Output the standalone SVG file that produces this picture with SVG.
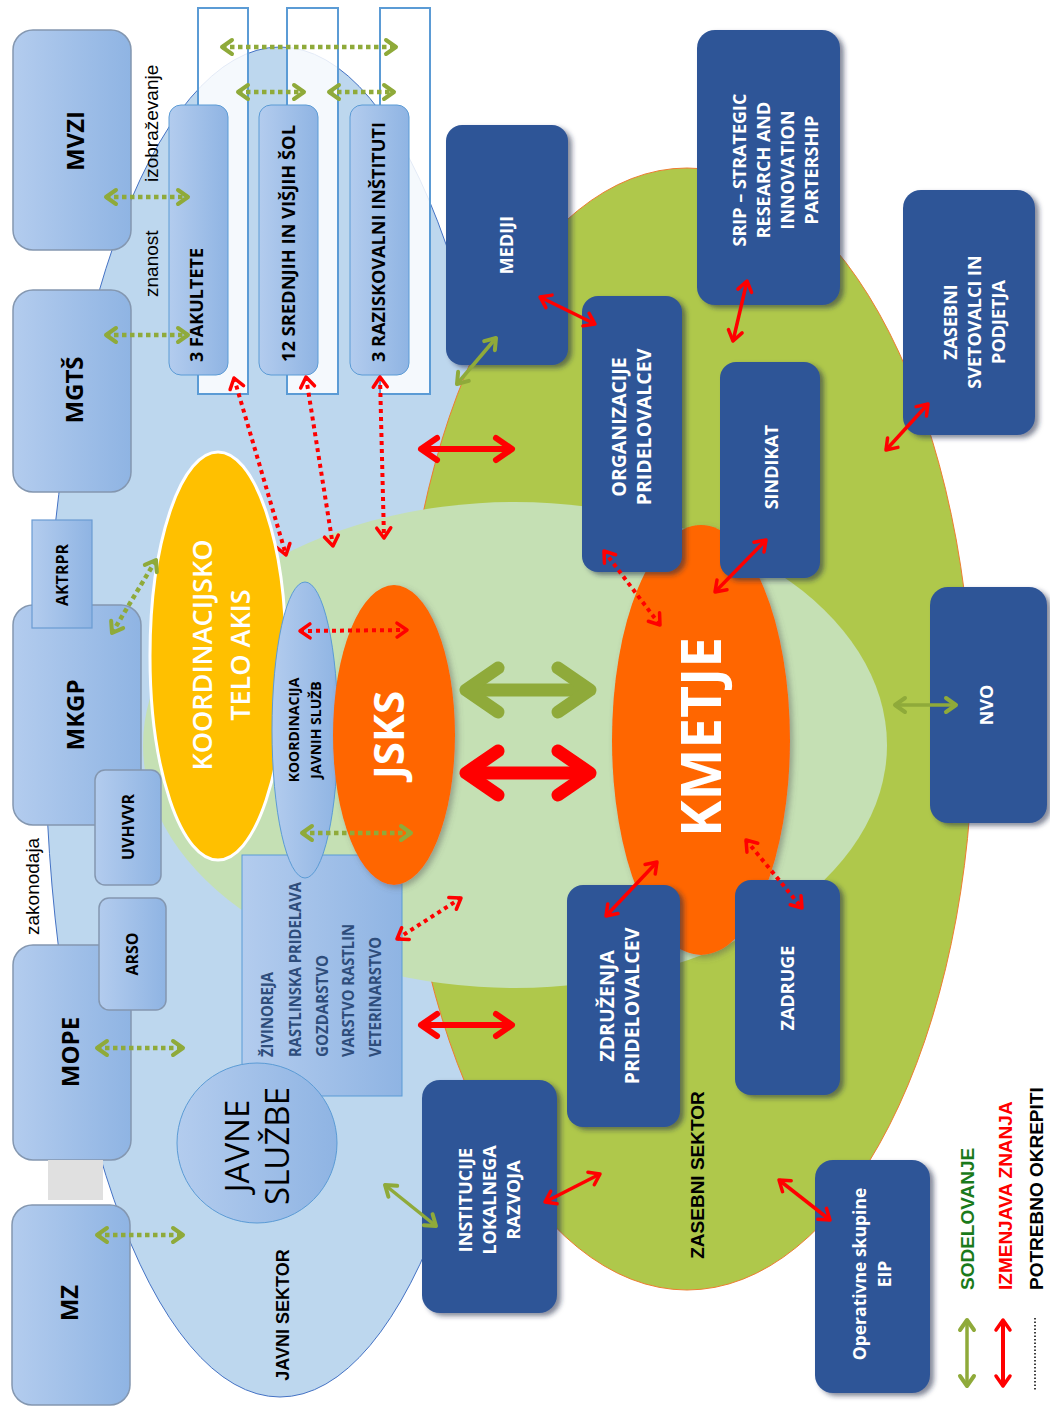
<svg xmlns="http://www.w3.org/2000/svg" width="1050" height="1410" viewBox="0 0 1050 1410">
<style>
.lb{font-family:"Open Sans","Liberation Sans",sans-serif;font-weight:bold;text-anchor:middle}
.ar{font-family:"Liberation Sans",Arial,sans-serif}
.w{fill:#fff}
.k{fill:#000}
.lbox{fill:url(#lbg);stroke:#8497B0;stroke-width:1.5}
.ibox{fill:url(#lbg);stroke:#5B9BD5;stroke-width:1}
.dbox{fill:#2F5597;filter:url(#sh)}
.wr{fill:#fff;fill-opacity:0.85;stroke:#5B9BD5;stroke-width:2}
.gd{stroke:#8FAA3A;stroke-width:4.5;stroke-dasharray:4.5 3.5;marker-start:url(#mg);marker-end:url(#mg)}
.rd{stroke:#FF0000;stroke-width:4;stroke-dasharray:4 4;marker-start:url(#mr);marker-end:url(#mr)}
.rs{stroke:#FF0000;stroke-width:3.5;marker-start:url(#mr);marker-end:url(#mr)}
.gs{stroke:#8FAA3A;stroke-width:3.5;marker-start:url(#mg);marker-end:url(#mg)}
.rm{stroke:#FF0000;stroke-width:6;marker-start:url(#mrm);marker-end:url(#mrm)}
.bg{stroke:#8FAA3A;stroke-width:13;marker-start:url(#mgb);marker-end:url(#mgb)}
.br{stroke:#FF0000;stroke-width:13;marker-start:url(#mrb);marker-end:url(#mrb)}
.hd{fill:none;stroke-linecap:round;stroke-linejoin:round}
.lst{fill:#2E4D7B;font-size:16px;text-anchor:start}
</style>
<defs>
<linearGradient id="lbg" x1="0" y1="0" x2="1" y2="0">
<stop offset="0" stop-color="#B3CCEE"/><stop offset="1" stop-color="#8FB4E3"/>
</linearGradient>
<filter id="sh" x="-10%" y="-10%" width="130%" height="130%">
<feDropShadow dx="4" dy="3" stdDeviation="2.5" flood-color="#1A2A4A" flood-opacity="0.55"/>
</filter>
<filter id="sh2" x="-10%" y="-10%" width="130%" height="130%">
<feDropShadow dx="3" dy="3" stdDeviation="3" flood-color="#555" flood-opacity="0.45"/>
</filter>
<marker id="mg" viewBox="0 0 20 20" refX="16" refY="10" markerWidth="20" markerHeight="20" markerUnits="userSpaceOnUse" orient="auto-start-reverse">
<path class="hd" d="M6,3 L16,10 L6,17" stroke="#8FAA3A" stroke-width="4"/>
</marker>
<marker id="mr" viewBox="0 0 20 20" refX="16" refY="10" markerWidth="20" markerHeight="20" markerUnits="userSpaceOnUse" orient="auto-start-reverse">
<path class="hd" d="M6,3 L16,10 L6,17" stroke="#FF0000" stroke-width="3.5"/>
</marker>
<marker id="mrm" viewBox="0 0 30 30" refX="24" refY="15" markerWidth="30" markerHeight="30" markerUnits="userSpaceOnUse" orient="auto-start-reverse">
<path class="hd" d="M10,4 L26,15 L10,26" stroke="#FF0000" stroke-width="6"/>
</marker>
<marker id="mgb" viewBox="0 0 70 70" refX="48" refY="35" markerWidth="70" markerHeight="70" markerUnits="userSpaceOnUse" orient="auto-start-reverse">
<path class="hd" d="M22,13 L54,35 L22,57" stroke="#8FAA3A" stroke-width="13"/>
</marker>
<marker id="mrb" viewBox="0 0 70 70" refX="48" refY="35" markerWidth="70" markerHeight="70" markerUnits="userSpaceOnUse" orient="auto-start-reverse">
<path class="hd" d="M22,13 L54,35 L22,57" stroke="#FF0000" stroke-width="13"/>
</marker>
</defs>

<rect width="1050" height="1410" fill="#fff"/>

<g id="sectors">
<ellipse id="javni-sektor-area" cx="280" cy="722" rx="235" ry="675" fill="#BDD7EE" stroke="#4472C4" stroke-width="1"/>
<ellipse id="zasebni-sektor-area" cx="687" cy="729" rx="286" ry="561" fill="#AFC84B" stroke="#ED7D31" stroke-width="1"/>
<ellipse id="inner-area" cx="515" cy="745" rx="372" ry="243" fill="#C5E0B4"/>
</g>

<g id="columns">
<rect class="wr" x="198" y="8" width="50" height="386"/>
<rect class="wr" x="287" y="8" width="51" height="386"/>
<rect class="wr" x="380" y="8" width="50" height="386"/>
</g>

<g id="ministries">
<g id="MVZI"><rect class="lbox" x="13" y="30" width="118" height="220" rx="20"/>
<text class="lb k" font-size="24" transform="translate(76,141) rotate(-90)" y="8.4">MVZI</text></g>
<g id="MGTS"><rect class="lbox" x="13" y="290" width="118" height="202" rx="20"/>
<text class="lb k" font-size="24" transform="translate(75,390) rotate(-90)" y="8.4">MGTŠ</text></g>
<g id="MKGP"><rect class="lbox" x="13" y="605" width="128" height="220" rx="20"/>
<text class="lb k" font-size="24" transform="translate(76,715) rotate(-90)" y="8.4">MKGP</text></g>
<g id="AKTRPR"><rect x="32" y="520" width="60" height="108" fill="url(#lbg)" stroke="#6A9BD3" stroke-width="1.2"/>
<text class="lb k" font-size="16" transform="translate(62,575) rotate(-90)" y="5.6">AKTRPR</text></g>
<g id="UVHVVR"><rect class="lbox" x="95" y="770" width="66" height="115" rx="10"/>
<text class="lb k" font-size="16" transform="translate(128,827) rotate(-90)" y="5.6">UVHVVR</text></g>
<g id="MOPE"><rect class="lbox" x="13" y="945" width="118" height="215" rx="20"/>
<text class="lb k" font-size="24" transform="translate(71,1052) rotate(-90)" y="8.4">MOPE</text></g>
<g id="ARSO"><rect class="lbox" x="99" y="898" width="67" height="112" rx="10"/>
<text class="lb k" font-size="16" transform="translate(132,954) rotate(-90)" y="5.6">ARSO</text></g>
<rect id="spacer" x="48" y="1160" width="55" height="40" fill="#E0E0E0"/>
<g id="MZ"><rect class="lbox" x="12" y="1205" width="118" height="200" rx="20"/>
<text class="lb k" font-size="24" transform="translate(70,1303) rotate(-90)" y="8.4">MZ</text></g>
</g>

<g id="labels-public" class="ar" font-size="19" fill="#000">
<text transform="translate(158,182) rotate(-90)">izobraževanje</text>
<text transform="translate(158,297) rotate(-90)">znanost</text>
<text transform="translate(39,935) rotate(-90)">zakonodaja</text>
<text transform="translate(283,1315) rotate(-90)" y="6.3" text-anchor="middle" font-weight="bold" font-size="18">JAVNI SEKTOR</text>
<text transform="translate(697,1175) rotate(-90)" y="6.6" text-anchor="middle" font-weight="bold" font-size="19">ZASEBNI SEKTOR</text>
</g>

<g id="institutions">
<g id="fakultete"><rect class="ibox" x="169" y="105" width="59" height="270" rx="12"/>
<text class="lb k" font-size="18" style="text-anchor:start" transform="translate(203,362) rotate(-90)">3 FAKULTETE</text></g>
<g id="sole"><rect class="ibox" x="259" y="105" width="59" height="270" rx="12"/>
<text class="lb k" font-size="18" style="text-anchor:start" transform="translate(295,362) rotate(-90)" textLength="237" lengthAdjust="spacingAndGlyphs">12 SREDNJIH IN VIŠJIH ŠOL</text></g>
<g id="instituti"><rect class="ibox" x="350" y="105" width="59" height="270" rx="12"/>
<text class="lb k" font-size="18" style="text-anchor:start" transform="translate(385,362) rotate(-90)" textLength="240" lengthAdjust="spacingAndGlyphs">3 RAZISKOVALNI INŠTITUTI</text></g>
</g>

<g id="podrocja">
<rect x="242" y="855" width="160" height="241" fill="url(#lbg)" stroke="#5B9BD5" stroke-width="1"/>
<g class="lb lst">
<text transform="translate(273,1057) rotate(-90)" textLength="85" lengthAdjust="spacingAndGlyphs" style="text-anchor:start">ŽIVINOREJA</text>
<text transform="translate(301,1057) rotate(-90)" textLength="175" lengthAdjust="spacingAndGlyphs" style="text-anchor:start">RASTLINSKA PRIDELAVA</text>
<text transform="translate(328,1057) rotate(-90)" textLength="102" lengthAdjust="spacingAndGlyphs" style="text-anchor:start">GOZDARSTVO</text>
<text transform="translate(354,1057) rotate(-90)" textLength="133" lengthAdjust="spacingAndGlyphs" style="text-anchor:start">VARSTVO RASTLIN</text>
<text transform="translate(381,1057) rotate(-90)" textLength="120" lengthAdjust="spacingAndGlyphs" style="text-anchor:start">VETERINARSTVO</text>
</g>
</g>

<g id="javne-sluzbe">
<circle cx="257" cy="1143" r="80" fill="url(#lbg)" stroke="#5B9BD5" stroke-width="1"/>
<text font-family="'Open Sans','Liberation Sans',sans-serif" font-size="33" text-anchor="middle" fill="#000" transform="translate(257,1146) rotate(-90)"><tspan x="0" y="-8.5">JAVNE</tspan><tspan x="0" y="31.5">SLUŽBE</tspan></text>
</g>

<g id="connectors-back" fill="none">
<line class="rd" x1="234" y1="378" x2="286" y2="555"/>
</g>

<g id="koordinacijsko-telo">
<ellipse cx="218" cy="656" rx="68" ry="204" fill="#FFC000" stroke="#fff" stroke-width="3"/>
<text class="lb w" font-size="27" style="font-weight:600" transform="translate(221,655) rotate(-90)"><tspan x="0" y="-9.5">KOORDINACIJSKO</tspan><tspan x="0" y="28.5">TELO AKIS</tspan></text>
</g>

<g id="koordinacija-sluzb">
<ellipse cx="305" cy="730" rx="33" ry="148" fill="url(#lbg)" stroke="#5B9BD5" stroke-width="1"/>
<text class="lb k" font-size="14" transform="translate(305,730) rotate(-90)"><tspan x="0" y="-6.1">KOORDINACIJA</tspan><tspan x="0" y="15.9">JAVNIH SLUŽB</tspan></text>
</g>

<g id="JSKS">
<ellipse cx="394" cy="735" rx="61" ry="150" fill="#FF6600" filter="url(#sh2)"/>
<text class="lb w" font-size="42" transform="translate(389,735) rotate(-90)" y="14.7">JSKS</text>
</g>

<g id="KMETJE">
<ellipse cx="701" cy="740" rx="89" ry="215" fill="#FF6600" filter="url(#sh2)"/>
<text class="lb w" font-size="55" transform="translate(702,737) rotate(-90)" y="19">KMETJE</text>
</g>

<g id="private-nodes">
<g id="MEDIJI"><rect class="dbox" x="446" y="125" width="122" height="240" rx="16"/>
<text class="lb w" font-size="18" transform="translate(507,245) rotate(-90)" y="6.3">MEDIJI</text></g>
<g id="SRIP"><rect class="dbox" x="697" y="30" width="143" height="275" rx="18"/>
<text class="lb w" font-size="18" transform="translate(776,170) rotate(-90)"><tspan x="0" y="-29.7">SRIP – STRATEGIC</tspan><tspan x="0" y="-5.7">RESEARCH AND</tspan><tspan x="0" y="18.3">INNOVATION</tspan><tspan x="0" y="42.3">PARTERSHIP</tspan></text></g>
<g id="ORGANIZACIJE"><rect class="dbox" x="582" y="296" width="100" height="276" rx="16"/>
<text class="lb w" font-size="19.5" transform="translate(632,427) rotate(-90)"><tspan x="0" y="-5.7">ORGANIZACIJE</tspan><tspan x="0" y="19.3">PRIDELOVALCEV</tspan></text></g>
<g id="SINDIKAT"><rect class="dbox" x="720" y="362" width="100" height="216" rx="16"/>
<text class="lb w" font-size="18" transform="translate(772,467) rotate(-90)" y="6.3">SINDIKAT</text></g>
<g id="ZASEBNI-SVETOVALCI"><rect class="dbox" x="903" y="190" width="132" height="245" rx="18"/>
<text class="lb w" font-size="18" transform="translate(975,322) rotate(-90)"><tspan x="0" y="-17.7">ZASEBNI</tspan><tspan x="0" y="6.3">SVETOVALCI IN</tspan><tspan x="0" y="30.3">PODJETJA</tspan></text></g>
<g id="NVO"><rect class="dbox" x="930" y="587" width="117" height="236" rx="18"/>
<text class="lb w" font-size="18" transform="translate(987,705) rotate(-90)" y="6.3">NVO</text></g>
<g id="ZDRUZENJA"><rect class="dbox" x="567" y="885" width="113" height="242" rx="16"/>
<text class="lb w" font-size="19.5" transform="translate(620,1006) rotate(-90)"><tspan x="0" y="-5.7">ZDRUŽENJA</tspan><tspan x="0" y="19.3">PRIDELOVALCEV</tspan></text></g>
<g id="ZADRUGE"><rect class="dbox" x="735" y="880" width="105" height="215" rx="16"/>
<text class="lb w" font-size="18" transform="translate(788,988) rotate(-90)" y="6.3">ZADRUGE</text></g>
<g id="INSTITUCIJE"><rect class="dbox" x="422" y="1080" width="135" height="233" rx="18"/>
<text class="lb w" font-size="18" transform="translate(490,1200) rotate(-90)"><tspan x="0" y="-17.7">INSTITUCIJE</tspan><tspan x="0" y="6.3">LOKALNEGA</tspan><tspan x="0" y="30.3">RAZVOJA</tspan></text></g>
<g id="EIP"><rect class="dbox" x="815" y="1160" width="115" height="233" rx="18"/>
<text class="lb w" font-size="17.5" transform="translate(872,1274) rotate(-90)"><tspan x="0" y="-6">Operativne skupine</tspan><tspan x="0" y="18.5">EIP</tspan></text></g>
</g>

<g id="connectors" fill="none">
<line class="gd" x1="222" y1="47" x2="396" y2="47"/>
<line class="gd" x1="238" y1="92" x2="304" y2="92"/>
<line class="gd" x1="329" y1="92" x2="394" y2="92"/>
<line class="gd" x1="106" y1="197" x2="188" y2="197"/>
<line class="gd" x1="106" y1="335" x2="188" y2="335"/>
<line class="gd" x1="112" y1="633" x2="156" y2="560"/>
<line class="gd" x1="97" y1="1048" x2="183" y2="1048"/>
<line class="gd" x1="97" y1="1235" x2="183" y2="1235"/>
<line class="gd" x1="302" y1="833" x2="411" y2="833"/>
<line class="rd" x1="306" y1="377" x2="333" y2="546"/>
<line class="rd" x1="380" y1="377" x2="384" y2="538"/>
<line class="rd" x1="300" y1="631" x2="407" y2="630"/>
<line class="rd" x1="397" y1="939" x2="461" y2="898"/>
<line class="rd" x1="604" y1="551" x2="660" y2="625"/>
<line class="rd" x1="746" y1="840" x2="802" y2="908"/>
<line class="rs" x1="540" y1="297" x2="595" y2="324"/>
<line class="rs" x1="747" y1="281" x2="733" y2="341"/>
<line class="rs" x1="928" y1="404" x2="886" y2="450"/>
<line class="rs" x1="766" y1="540" x2="715" y2="592"/>
<line class="rs" x1="657" y1="862" x2="606" y2="916"/>
<line class="rs" x1="545" y1="1202" x2="600" y2="1174"/>
<line class="rs" x1="779" y1="1180" x2="830" y2="1220"/>
<line class="rm" x1="423" y1="449" x2="510" y2="449"/>
<line class="rm" x1="423" y1="1025" x2="510" y2="1025"/>
<line class="bg" x1="472" y1="690" x2="584" y2="690"/>
<line class="br" x1="472" y1="773" x2="584" y2="773"/>
<line class="gs" x1="457" y1="384" x2="496" y2="338"/>
<line class="gs" x1="895" y1="705" x2="956" y2="705"/>
<line class="gs" x1="385" y1="1185" x2="436" y2="1226"/>
</g>

<g id="legend">
<line class="gs" x1="967" y1="1320" x2="967" y2="1386" fill="none"/>
<line class="rs" x1="1003" y1="1320" x2="1003" y2="1386" fill="none" style="stroke-width:4"/>
<line x1="1035" y1="1318" x2="1035" y2="1390" stroke="#000" stroke-width="1.5" stroke-dasharray="1.5 2"/>
<g class="ar" font-weight="bold" font-size="19">
<text transform="translate(974,1290) rotate(-90)" fill="#1A7A1A">SODELOVANJE</text>
<text transform="translate(1012,1290) rotate(-90)" fill="#FF0000">IZMENJAVA ZNANJA</text>
<text transform="translate(1043,1290) rotate(-90)" fill="#000">POTREBNO OKREPITI</text>
</g>
</g>
</svg>
